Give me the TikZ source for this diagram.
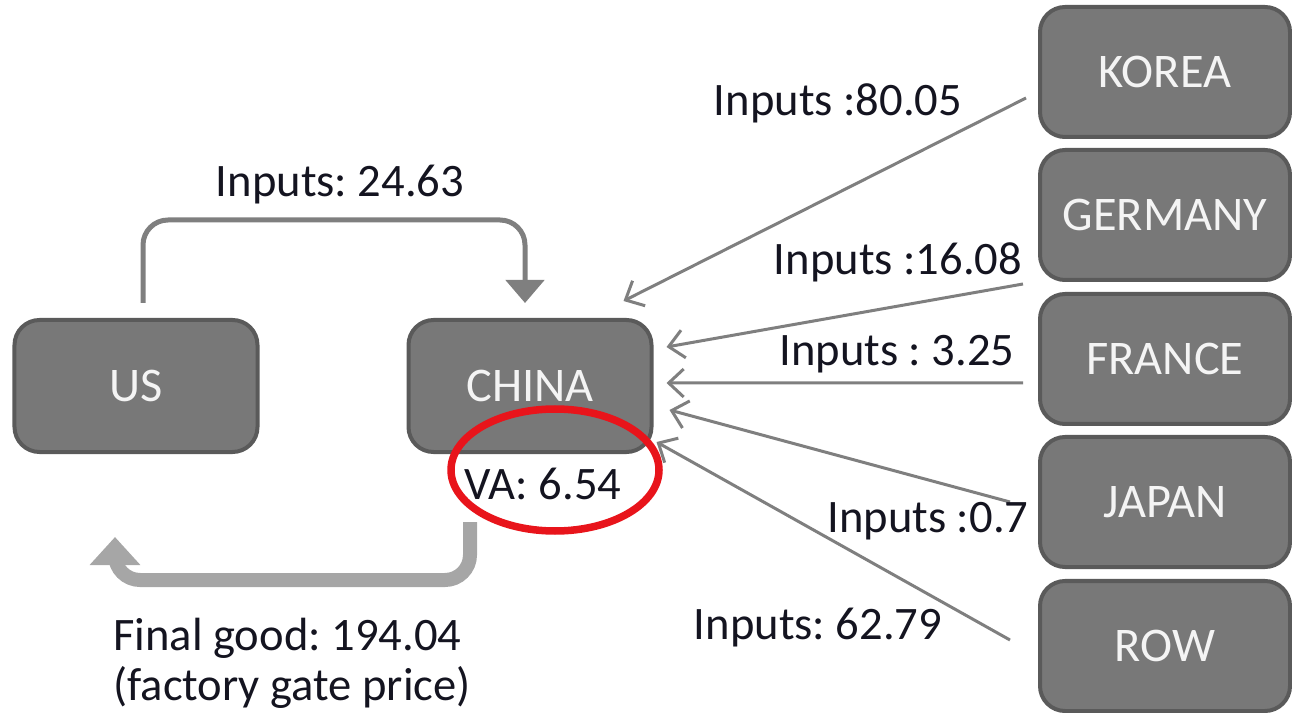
\documentclass[tikz,border=0pt]{standalone}
\usepackage{fontspec}
\setmainfont{Carlito}
\usetikzlibrary{arrows.meta}
\frenchspacing

\tikzset{
	country/.style={draw=boxedge, fill=boxfill, line width=0.8mm, rounded corners=5mm,
		minimum width=48.6mm, minimum height=26.4mm, text=boxtext, font=\fontsize{27.5}{30}\selectfont},
	flowlabel/.style={text=labeltext, font=\fontsize{26.5}{30}\selectfont, inner sep=0pt},
	inflow/.style={draw=flowgray, line width=0.6mm, -{Straight Barb[length=3mm, width=5.6mm, line width=0.6mm]}},
	usflow/.style={draw=flowgray, line width=1mm, rounded corners=5mm, -{Triangle[length=4.6mm, width=7.6mm]}},
	finalflow/.style={draw=finalgray, line width=2.8mm, rounded corners=5mm, -{Triangle[length=5.6mm, width=9.8mm]}}
}
\definecolor{boxfill}{HTML}{787878}
\definecolor{boxedge}{HTML}{5A5A5A}
\definecolor{boxtext}{HTML}{F4F4F4}
\definecolor{labeltext}{HTML}{141420}
\definecolor{flowgray}{HTML}{7F7F7F}
\definecolor{finalgray}{HTML}{A6A6A6}
\definecolor{ringred}{HTML}{E8141B}

\begin{document}
\begin{tikzpicture}[x=0.2mm, y=-0.2mm]
			\useasboundingbox (0, 0) rectangle (1292, 713);

			% countries
			\node[country] (us)		at (136, 386) {US};
			\node[country] (china)	at (530, 386) {CHINA};
			\node[country, minimum width=50mm, minimum height=26mm] (korea)	at (1165, 72) {KOREA};
			\node[country, minimum width=50mm, minimum height=26mm] (germany)	at (1165, 215) {GERMANY};
			\node[country, minimum width=50mm, minimum height=26mm] (france)	at (1165, 359) {FRANCE};
			\node[country, minimum width=50mm, minimum height=26mm] (japan)	at (1165, 502) {JAPAN};
			\node[country, minimum width=50mm, minimum height=26mm] (row)	at (1165, 646) {ROW};

			% inputs coming into china
			\draw[inflow]	([xshift=-2.4mm, yshift=-5.2mm]korea.west) -- ([xshift=-6mm, yshift=3.4mm]china.north east);
			\draw[inflow]	([xshift=-3mm, yshift=-0.4mm]germany.south west) -- ([xshift=2.6mm, yshift=7.8mm]china.east);
			\draw[inflow]	([xshift=-3mm, yshift=-4.8mm]france.west) -- ([xshift=2.6mm, yshift=0.6mm]china.east);
			\draw[inflow]	([xshift=-5.6mm]japan.west) -- ([xshift=3.2mm, yshift=-4.8mm]china.east);
			\draw[inflow]	([xshift=-5.6mm, yshift=1.2mm]row.west) -- ([xshift=0.6mm, yshift=2.4mm]china.south east);
			\draw[usflow]	([xshift=1.4mm, yshift=3mm]us.north) -- ++(0, -83) -| ([xshift=-1mm, yshift=3mm]china.north);

			% final good back to the us
			\draw[finalflow]	([xshift=-12mm, yshift=-13.6mm]china.south) -- ++(0, 58) -| ([xshift=-4.2mm, yshift=-16.6mm]us.south);

			\node[flowlabel] (l_us)		at (340, 185) {Inputs: 24.63};
			\node[flowlabel] (l_korea)	at (838, 103) {Inputs :80.05};
			\node[flowlabel] (l_germany)	at (898, 262) {Inputs :16.08};
			\node[flowlabel] (l_france)	at (897, 354) {Inputs : 3.25};
			\node[flowlabel] (l_japan)	at (928, 521) {Inputs :0.7};
			\node[flowlabel] (l_row)	at (818, 628) {Inputs: 62.79};
			\node[flowlabel, anchor=west, align=left, font=\fontsize{26.5}{28.5}\selectfont] (l_final)	at (113, 663) {Final good: 194.04\\(factory gate price)};

			% value added, ringed
			\node[flowlabel] (va)	at (543, 484) {VA: 6.54};
			\draw[ringred, line width=1.5mm]	(555, 470) ellipse [x radius=20.8mm, y radius=12.2mm];
		\end{tikzpicture}
\end{document}
